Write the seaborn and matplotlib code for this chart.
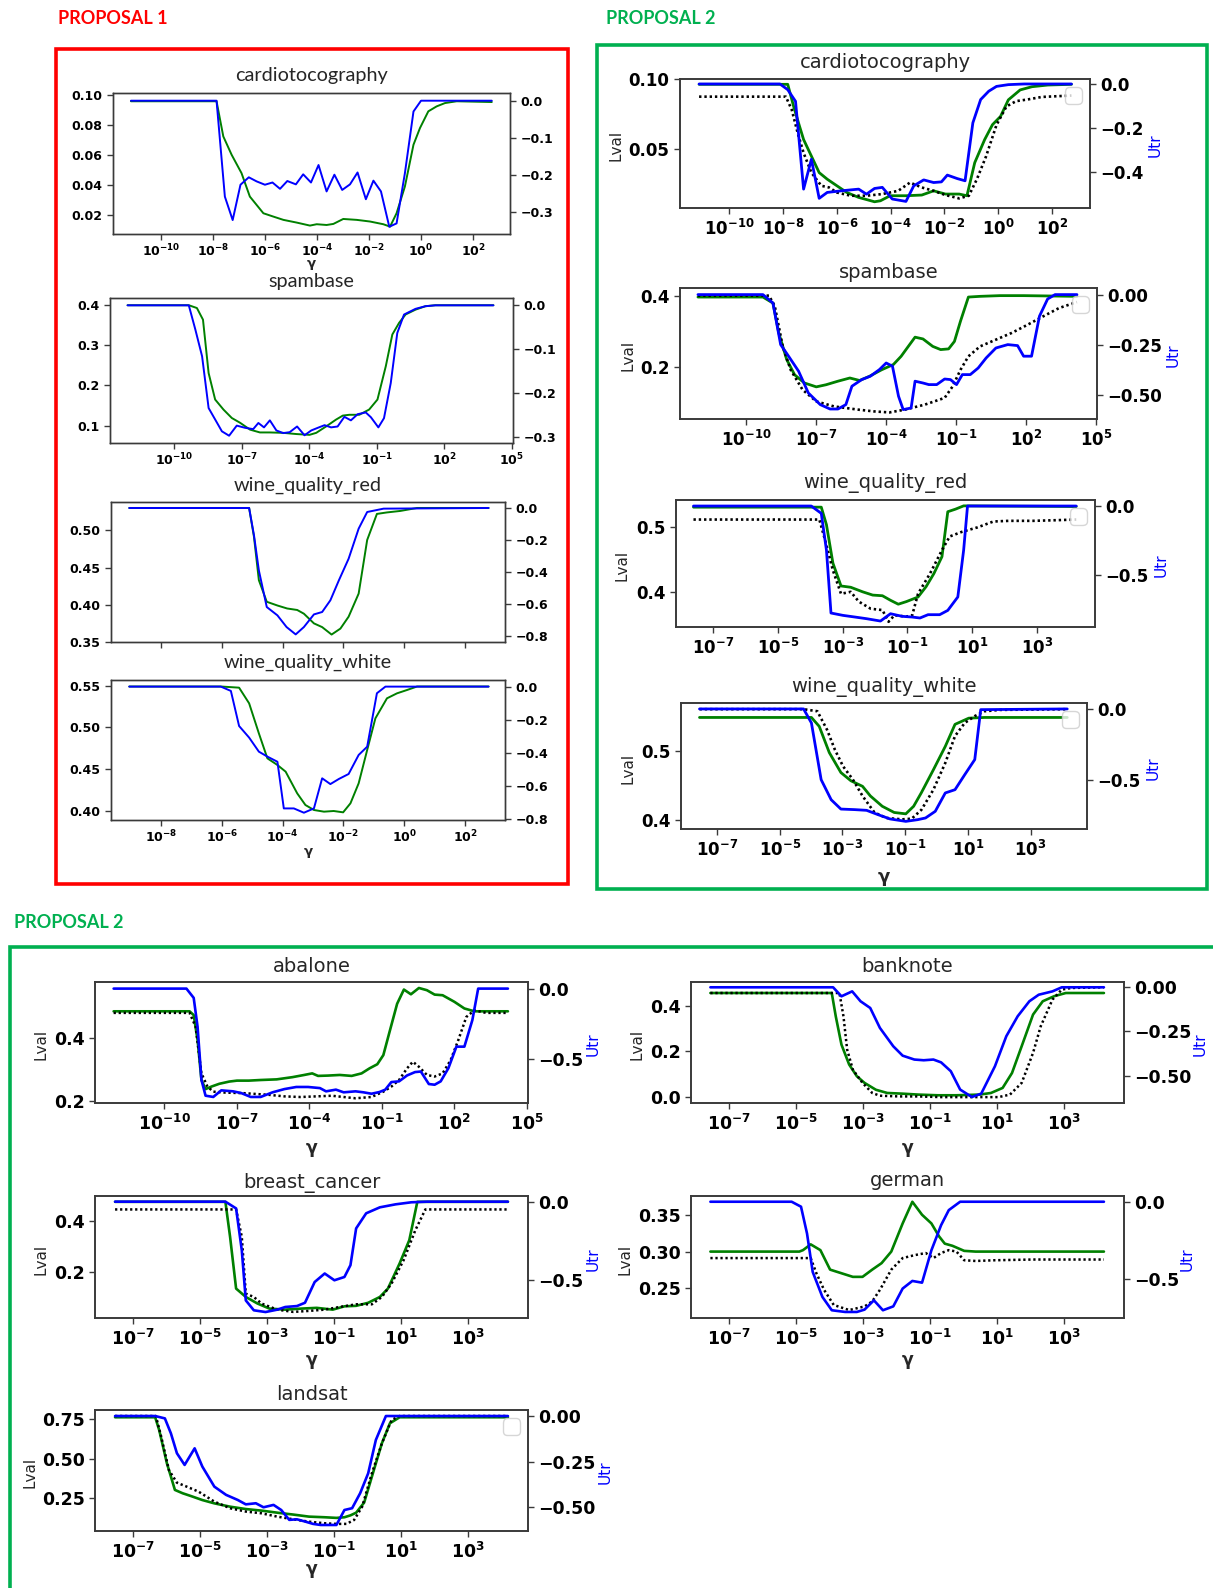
import numpy as np
import matplotlib
matplotlib.use("Agg")
import matplotlib.pyplot as plt
import seaborn as sns
from matplotlib.ticker import FixedLocator, FuncFormatter, NullLocator
from matplotlib.patches import Rectangle

# ======================= DATA (log10 gamma, value) =======================
# ---- PROPOSAL 1 ----
p1_card_green_lg = [-11.15, -7.86, -7.60, -7.28, -6.90, -6.58, -6.06, -5.68, -5.29, -4.78, -4.27, -4.01, -3.63, -3.37, -2.99, -2.47, -1.96, -1.45, -1.19, -0.94, -0.62, -0.29, -0.04, 0.28, 0.60, 0.92, 1.37, 2.72]
p1_card_green = [0.0956, 0.0956, 0.0722, 0.0600, 0.0478, 0.0322, 0.0211, 0.0189, 0.0167, 0.0149, 0.0129, 0.0138, 0.0133, 0.0140, 0.0173, 0.0167, 0.0156, 0.0138, 0.0122, 0.0211, 0.0389, 0.0667, 0.0778, 0.0889, 0.0922, 0.0944, 0.0956, 0.0951]
p1_card_blue_lg = [-11.15, -7.86, -7.54, -7.24, -6.94, -6.62, -6.32, -6.00, -5.71, -5.42, -5.14, -4.81, -4.53, -4.23, -3.94, -3.63, -3.33, -3.03, -2.73, -2.44, -2.12, -1.83, -1.54, -1.22, -0.94, -0.62, -0.29, 0.00, 2.72]
p1_card_blue = [0.0, 0.0, -0.258, -0.321, -0.226, -0.206, -0.217, -0.226, -0.220, -0.237, -0.216, -0.225, -0.198, -0.220, -0.173, -0.244, -0.199, -0.240, -0.225, -0.193, -0.265, -0.215, -0.244, -0.339, -0.330, -0.195, -0.029, 0.0, 0.0]

p1_spam_green_lg = [-12.07, -9.35, -8.99, -8.72, -8.47, -8.18, -7.81, -7.44, -7.07, -6.63, -6.19, -5.75, -5.16, -4.57, -3.99, -3.69, -3.25, -2.81, -2.51, -2.22, -1.78, -1.34, -0.97, -0.60, -0.31, -0.01, 0.28, 0.72, 1.16, 1.60, 4.18]
p1_spam_green = [0.400, 0.400, 0.393, 0.364, 0.231, 0.165, 0.140, 0.119, 0.107, 0.090, 0.083, 0.083, 0.082, 0.079, 0.077, 0.082, 0.098, 0.115, 0.125, 0.127, 0.127, 0.140, 0.165, 0.248, 0.327, 0.356, 0.377, 0.389, 0.3975, 0.400, 0.400]
p1_spam_blue_lg = [-12.07, -9.35, -9.06, -8.76, -8.47, -8.18, -7.88, -7.56, -7.22, -6.85, -6.49, -6.26, -6.01, -5.75, -5.46, -5.16, -4.87, -4.54, -4.21, -3.91, -3.62, -3.32, -3.03, -2.74, -2.44, -2.15, -1.85, -1.49, -1.26, -0.93, -0.68, -0.38, -0.09, 0.21, 0.72, 1.16, 1.60, 4.18]
p1_spam_blue = [0.0, 0.0, -0.055, -0.116, -0.234, -0.260, -0.287, -0.297, -0.274, -0.279, -0.282, -0.268, -0.278, -0.262, -0.285, -0.291, -0.289, -0.276, -0.296, -0.285, -0.279, -0.273, -0.278, -0.276, -0.254, -0.262, -0.248, -0.244, -0.255, -0.278, -0.257, -0.177, -0.063, -0.021, -0.008, -0.002, 0.0, 0.0]

p1_red_green_lg = [-9.04, -5.10, -4.94, -4.78, -4.52, -4.17, -3.85, -3.52, -3.30, -2.97, -2.70, -2.39, -2.10, -1.83, -1.50, -1.22, -0.90, -0.57, -0.13, 0.42, 2.77]
p1_red_green = [0.530, 0.530, 0.491, 0.433, 0.404, 0.399, 0.395, 0.393, 0.388, 0.375, 0.370, 0.360, 0.368, 0.384, 0.415, 0.487, 0.522, 0.524, 0.526, 0.530, 0.530]
p1_red_blue_lg = [-9.04, -5.10, -4.94, -4.78, -4.52, -4.17, -3.87, -3.57, -3.30, -2.97, -2.70, -2.43, -2.15, -1.83, -1.50, -1.22, -0.68, 2.77]
p1_red_blue = [0.0, 0.0, -0.171, -0.390, -0.619, -0.671, -0.744, -0.790, -0.744, -0.665, -0.650, -0.577, -0.452, -0.317, -0.129, -0.025, -0.004, 0.0]

p1_white_green_lg = [-9.04, -6.03, -5.43, -5.10, -4.78, -4.50, -4.17, -3.90, -3.52, -3.25, -2.97, -2.64, -2.32, -2.01, -1.77, -1.50, -1.22, -0.95, -0.57, -0.24, 0.09, 0.42, 2.77]
p1_white_green = [0.549, 0.549, 0.5476, 0.5288, 0.4928, 0.4628, 0.4548, 0.4468, 0.4208, 0.4068, 0.4008, 0.3988, 0.3996, 0.398, 0.4088, 0.4328, 0.4728, 0.5108, 0.5348, 0.5408, 0.5448, 0.549, 0.549]
p1_white_blue_lg = [-9.04, -6.03, -5.70, -5.43, -5.10, -4.78, -4.50, -4.17, -3.96, -3.63, -3.30, -2.97, -2.70, -2.43, -2.15, -1.83, -1.50, -1.22, -0.90, -0.62, 2.77]
p1_white_blue = [0.0, 0.0, -0.026, -0.238, -0.308, -0.393, -0.423, -0.454, -0.736, -0.736, -0.762, -0.736, -0.554, -0.589, -0.558, -0.528, -0.413, -0.363, -0.040, 0.0, 0.0]

# ---- PROPOSAL 2 (top right) ----
p2_card_green_lg = [-11.13, -7.83, -7.61, -7.39, -7.24, -6.95, -6.66, -6.36, -6.00, -5.63, -5.19, -4.60, -4.38, -4.02, -3.43, -2.84, -2.40, -1.96, -1.45, -1.16, -0.87, -0.50, -0.21, 0.09, 0.38, 0.82, 1.26, 1.85, 2.73]
p2_card_green = [0.0965, 0.0965, 0.0807, 0.0665, 0.0571, 0.0453, 0.0335, 0.0288, 0.0241, 0.0193, 0.0158, 0.0127, 0.0134, 0.0170, 0.0170, 0.0175, 0.0205, 0.0182, 0.0182, 0.0170, 0.0406, 0.0571, 0.0677, 0.0736, 0.0854, 0.0925, 0.0948, 0.0960, 0.0965]
p2_card_dot_lg = [-11.13, -7.90, -7.68, -7.46, -7.24, -6.95, -6.58, -6.29, -6.00, -5.48, -4.90, -4.31, -3.72, -3.28, -2.84, -2.40, -1.96, -1.45, -1.09, -0.79, -0.45, -0.06, 0.31, 0.67, 1.10, 1.63, 2.73]
p2_card_dot = [0.0877, 0.0877, 0.0783, 0.0618, 0.0476, 0.0335, 0.0241, 0.0229, 0.0193, 0.0170, 0.0170, 0.0182, 0.0205, 0.0264, 0.0229, 0.0205, 0.0175, 0.0151, 0.0170, 0.0288, 0.0450, 0.0675, 0.0807, 0.0845, 0.0857, 0.0875, 0.0885]
p2_card_blue_lg = [-11.13, -8.12, -7.83, -7.54, -7.24, -6.95, -6.66, -6.36, -5.78, -5.19, -4.90, -4.60, -4.31, -3.94, -3.43, -3.14, -2.77, -2.40, -2.11, -1.89, -1.52, -1.23, -0.94, -0.65, -0.35, -0.06, 0.38, 0.97, 2.73]
p2_card_blue = [0.0, 0.0, -0.026, -0.079, -0.479, -0.343, -0.521, -0.494, -0.486, -0.479, -0.502, -0.476, -0.471, -0.524, -0.535, -0.464, -0.437, -0.449, -0.446, -0.415, -0.431, -0.441, -0.177, -0.071, -0.033, -0.011, -0.003, 0.0, 0.0]

p2_spam_green_lg = [-12.08, -9.29, -8.86, -8.61, -8.27, -7.93, -7.51, -7.00, -6.58, -6.07, -5.56, -5.14, -4.71, -4.20, -3.69, -3.36, -3.05, -2.76, -2.42, -2.00, -1.66, -1.32, -1.07, -0.81, -0.47, 0.03, 0.88, 1.90, 4.19]
p2_spam_green = [0.398, 0.398, 0.381, 0.297, 0.222, 0.179, 0.156, 0.145, 0.151, 0.161, 0.170, 0.163, 0.175, 0.193, 0.208, 0.231, 0.259, 0.285, 0.280, 0.259, 0.250, 0.252, 0.273, 0.330, 0.398, 0.400, 0.402, 0.402, 0.400]
p2_spam_dot_lg = [-12.08, -9.03, -8.78, -8.44, -8.10, -7.59, -7.00, -6.24, -5.22, -4.54, -3.86, -3.19, -2.34, -1.49, -1.15, -0.81, -0.47, 0.03, 0.71, 1.39, 2.07, 2.75, 3.42, 4.19]
p2_spam_dot = [0.402, 0.402, 0.372, 0.259, 0.193, 0.137, 0.104, 0.090, 0.081, 0.076, 0.073, 0.081, 0.095, 0.114, 0.146, 0.193, 0.231, 0.259, 0.278, 0.297, 0.320, 0.344, 0.367, 0.384]
p2_spam_blue_lg = [-12.08, -9.29, -8.86, -8.53, -8.19, -7.76, -7.34, -6.83, -6.41, -6.07, -5.73, -5.47, -5.05, -4.68, -4.29, -4.00, -3.73, -3.47, -3.27, -2.93, -2.76, -2.42, -2.17, -1.83, -1.49, -1.24, -0.98, -0.73, -0.39, -0.05, 0.29, 0.71, 1.22, 1.64, 1.90, 2.24, 2.58, 2.93, 3.25, 4.19]
p2_spam_blue = [0.0, 0.0, -0.042, -0.250, -0.308, -0.383, -0.492, -0.550, -0.572, -0.572, -0.550, -0.458, -0.425, -0.408, -0.375, -0.342, -0.358, -0.508, -0.575, -0.567, -0.433, -0.442, -0.450, -0.450, -0.422, -0.425, -0.450, -0.400, -0.400, -0.367, -0.317, -0.267, -0.250, -0.255, -0.308, -0.308, -0.108, -0.022, 0.0, 0.0]

p2_red_green_lg = [-7.61, -3.66, -3.50, -3.30, -3.05, -2.75, -2.38, -2.07, -1.77, -1.52, -1.28, -1.03, -0.67, -0.42, -0.18, 0.07, 0.25, 0.49, 0.74, 4.22]
p2_red_green = [0.530, 0.530, 0.503, 0.444, 0.409, 0.407, 0.400, 0.395, 0.394, 0.387, 0.381, 0.385, 0.392, 0.408, 0.428, 0.454, 0.523, 0.527, 0.532, 0.531]
p2_red_dot_lg = [-7.61, -3.72, -3.54, -3.30, -3.05, -2.75, -2.50, -2.13, -1.77, -1.58, -1.40, -1.03, -0.85, -0.67, -0.30, 0.07, 0.31, 0.68, 1.17, 1.66, 2.14, 2.88, 3.61, 4.22]
p2_red_dot = [0.511, 0.511, 0.479, 0.433, 0.397, 0.400, 0.385, 0.374, 0.372, 0.354, 0.364, 0.362, 0.364, 0.397, 0.428, 0.464, 0.485, 0.492, 0.499, 0.508, 0.509, 0.509, 0.510, 0.511]
p2_red_blue_lg = [-7.61, -3.97, -3.66, -3.50, -3.36, -2.99, -2.62, -2.26, -1.83, -1.52, -1.16, -0.85, -0.61, -0.36, 0.00, 0.25, 0.56, 0.74, 0.86, 4.22]
p2_red_blue = [0.0, 0.0, -0.053, -0.319, -0.773, -0.790, -0.802, -0.814, -0.831, -0.778, -0.797, -0.802, -0.809, -0.785, -0.785, -0.754, -0.657, -0.319, 0.0, 0.0]

p2_white_green_lg = [-7.56, -3.99, -3.74, -3.42, -3.05, -2.73, -2.36, -2.11, -1.73, -1.35, -0.98, -0.73, -0.48, -0.10, 0.28, 0.59, 1.03, 1.53, 4.17]
p2_white_green = [0.549, 0.549, 0.536, 0.498, 0.469, 0.457, 0.449, 0.435, 0.420, 0.411, 0.409, 0.420, 0.440, 0.473, 0.507, 0.539, 0.548, 0.549, 0.549]
p2_white_dot_lg = [-7.56, -4.24, -3.80, -3.49, -3.24, -2.98, -2.67, -2.36, -1.98, -1.60, -1.10, -0.79, -0.48, -0.10, 0.28, 0.59, 0.90, 1.22, 1.53, 2.03, 4.17]
p2_white_dot = [0.561, 0.561, 0.558, 0.531, 0.502, 0.478, 0.459, 0.435, 0.411, 0.403, 0.401, 0.402, 0.415, 0.444, 0.483, 0.522, 0.541, 0.551, 0.558, 0.560, 0.561]
p2_white_blue_lg = [-7.56, -4.24, -3.99, -3.68, -3.36, -3.05, -2.61, -2.23, -1.86, -1.48, -0.98, -0.60, -0.35, -0.04, 0.28, 0.59, 0.90, 1.22, 1.41, 4.17]
p2_white_blue = [0.0, 0.0, -0.099, -0.500, -0.642, -0.708, -0.712, -0.717, -0.748, -0.778, -0.795, -0.783, -0.771, -0.724, -0.594, -0.571, -0.465, -0.358, -0.005, 0.0]

# ---- PROPOSAL 2 (bottom) ----
ab_green_lg = [-12.08, -8.94, -8.77, -8.61, -8.45, -8.28, -8.04, -7.71, -7.30, -6.98, -6.49, -6.00, -5.34, -4.69, -4.20, -3.87, -3.63, -3.22, -2.73, -2.24, -1.83, -1.50, -1.18, -0.93, -0.69, -0.36, -0.08, 0.21, 0.54, 0.87, 1.19, 1.52, 2.01, 2.42, 2.83, 4.22]
ab_green = [0.484, 0.484, 0.472, 0.393, 0.266, 0.237, 0.245, 0.254, 0.261, 0.264, 0.264, 0.266, 0.268, 0.275, 0.282, 0.287, 0.279, 0.280, 0.282, 0.279, 0.287, 0.303, 0.316, 0.345, 0.414, 0.508, 0.553, 0.538, 0.558, 0.551, 0.537, 0.535, 0.514, 0.493, 0.484, 0.484]
ab_dot_lg = [-12.08, -8.94, -8.69, -8.45, -8.20, -7.96, -7.47, -6.65, -5.67, -5.02, -4.36, -3.71, -3.06, -2.57, -2.08, -1.42, -0.93, -0.60, -0.28, 0.05, 0.29, 0.54, 0.87, 1.19, 1.52, 1.85, 2.17, 2.50, 2.83, 3.32, 4.22]
ab_dot = [0.479, 0.479, 0.435, 0.287, 0.245, 0.229, 0.226, 0.224, 0.219, 0.214, 0.212, 0.214, 0.216, 0.212, 0.208, 0.212, 0.229, 0.245, 0.266, 0.303, 0.324, 0.308, 0.282, 0.277, 0.287, 0.329, 0.393, 0.466, 0.487, 0.479, 0.479]
ab_blue_lg = [-12.08, -9.07, -8.77, -8.61, -8.45, -8.28, -7.96, -7.63, -7.14, -6.81, -6.41, -6.00, -5.51, -5.02, -4.53, -4.04, -3.55, -3.30, -2.89, -2.57, -2.08, -1.75, -1.42, -1.09, -0.85, -0.60, -0.28, 0.05, 0.38, 0.62, 0.95, 1.19, 1.44, 1.76, 2.09, 2.42, 2.75, 2.99, 4.22]
ab_blue = [0.0, 0.0, -0.066, -0.271, -0.649, -0.762, -0.771, -0.724, -0.731, -0.743, -0.771, -0.771, -0.738, -0.715, -0.700, -0.700, -0.708, -0.731, -0.719, -0.738, -0.731, -0.738, -0.748, -0.736, -0.719, -0.665, -0.660, -0.618, -0.594, -0.590, -0.679, -0.684, -0.660, -0.566, -0.413, -0.413, -0.224, 0.0, 0.0]

bn_green_lg = [-7.57, -3.94, -3.82, -3.65, -3.42, -3.19, -2.96, -2.62, -2.28, -1.82, -1.36, -0.78, -0.21, 0.48, 0.82, 1.17, 1.45, 1.74, 2.08, 2.37, 2.71, 3.06, 4.20]
bn_green = [0.455, 0.455, 0.353, 0.230, 0.143, 0.092, 0.063, 0.033, 0.019, 0.016, 0.012, 0.009, 0.009, 0.012, 0.019, 0.041, 0.106, 0.223, 0.361, 0.419, 0.441, 0.455, 0.455]
bn_dot_lg = [-7.57, -3.71, -3.59, -3.48, -3.31, -3.02, -2.73, -2.50, -1.93, -1.36, -0.67, 0.02, 0.71, 1.05, 1.39, 1.74, 2.08, 2.31, 2.66, 2.94, 3.23, 4.20]
bn_dot = [0.455, 0.455, 0.353, 0.208, 0.121, 0.063, 0.019, 0.007, 0.004, 0.004, 0.001, 0.001, 0.001, 0.001, 0.012, 0.063, 0.194, 0.310, 0.426, 0.470, 0.477, 0.480]
bn_blue_lg = [-7.57, -3.90, -3.65, -3.33, -3.08, -2.79, -2.50, -2.10, -1.82, -1.47, -1.19, -0.90, -0.67, -0.38, -0.10, 0.25, 0.53, 0.94, 1.28, 1.62, 1.97, 2.25, 2.66, 2.94, 4.20]
bn_blue = [0.0, 0.0, -0.051, -0.023, -0.079, -0.117, -0.230, -0.334, -0.387, -0.409, -0.413, -0.409, -0.425, -0.475, -0.579, -0.621, -0.602, -0.447, -0.277, -0.164, -0.079, -0.042, -0.023, 0.0, 0.0]

bc_green_lg = [-7.55, -4.25, -4.11, -3.93, -3.64, -3.29, -2.93, -2.46, -1.99, -1.52, -1.04, -0.69, -0.34, 0.02, 0.37, 0.61, 0.96, 1.25, 1.49, 4.20]
bc_green = [0.476, 0.476, 0.338, 0.134, 0.101, 0.075, 0.055, 0.051, 0.055, 0.058, 0.051, 0.064, 0.066, 0.078, 0.101, 0.134, 0.233, 0.325, 0.476, 0.476]
bc_dot_lg = [-7.55, -3.93, -3.76, -3.64, -3.40, -3.17, -2.70, -2.22, -1.75, -1.28, -0.81, -0.34, 0.13, 0.43, 0.72, 1.08, 1.43, 1.73, 4.20]
bc_dot = [0.446, 0.446, 0.338, 0.114, 0.101, 0.075, 0.051, 0.042, 0.046, 0.051, 0.062, 0.072, 0.072, 0.101, 0.154, 0.246, 0.364, 0.446, 0.446]
bc_blue_lg = [-7.55, -4.25, -3.93, -3.76, -3.64, -3.40, -3.05, -2.70, -2.46, -2.11, -1.87, -1.58, -1.28, -0.99, -0.69, -0.51, -0.34, -0.04, 0.37, 0.84, 1.31, 1.79, 4.20]
bc_blue = [0.0, 0.0, -0.043, -0.309, -0.628, -0.691, -0.702, -0.687, -0.670, -0.664, -0.643, -0.511, -0.457, -0.500, -0.479, -0.404, -0.170, -0.074, -0.036, -0.017, -0.004, 0.0, 0.0]

gm_green_lg = [-7.57, -4.91, -4.80, -4.57, -4.28, -3.99, -3.65, -3.31, -3.02, -2.73, -2.45, -2.16, -1.82, -1.53, -1.24, -0.96, -0.73, -0.56, -0.33, 0.02, 0.36, 4.20]
gm_green = [0.300, 0.300, 0.302, 0.310, 0.302, 0.275, 0.270, 0.265, 0.265, 0.275, 0.284, 0.300, 0.339, 0.369, 0.351, 0.339, 0.321, 0.311, 0.308, 0.301, 0.300, 0.300]
gm_dot_lg = [-7.57, -4.57, -4.40, -4.17, -3.88, -3.42, -2.96, -2.73, -2.50, -2.16, -1.82, -1.47, -1.13, -0.90, -0.67, -0.44, -0.21, 0.02, 0.36, 0.94, 2.08, 4.20]
gm_dot = [0.291, 0.291, 0.270, 0.247, 0.226, 0.219, 0.224, 0.231, 0.247, 0.275, 0.291, 0.295, 0.298, 0.291, 0.298, 0.302, 0.300, 0.288, 0.287, 0.288, 0.289, 0.289]
gm_blue_lg = [-7.57, -5.14, -4.86, -4.68, -4.51, -4.22, -3.94, -3.54, -3.19, -2.96, -2.68, -2.41, -2.10, -1.82, -1.53, -1.24, -0.96, -0.67, -0.44, -0.10, 4.20]
gm_blue = [0.0, 0.0, -0.032, -0.205, -0.453, -0.614, -0.700, -0.711, -0.711, -0.696, -0.636, -0.700, -0.675, -0.560, -0.511, -0.522, -0.313, -0.151, -0.054, 0.0, 0.0]

ls_green_lg = [-7.55, -6.35, -6.23, -6.00, -5.76, -5.53, -5.29, -4.94, -4.58, -4.11, -3.64, -3.17, -2.70, -2.22, -1.75, -1.28, -0.93, -0.69, -0.51, -0.34, -0.10, 0.19, 0.43, 0.67, 0.96, 4.20]
ls_green = [0.763, 0.763, 0.682, 0.472, 0.303, 0.282, 0.265, 0.239, 0.218, 0.197, 0.182, 0.172, 0.159, 0.147, 0.134, 0.130, 0.126, 0.130, 0.142, 0.159, 0.223, 0.429, 0.598, 0.725, 0.763, 0.763]
ls_dot_lg = [-7.55, -6.33, -6.17, -5.94, -5.70, -5.41, -5.05, -4.58, -4.11, -3.64, -3.17, -2.70, -2.22, -1.75, -1.28, -0.93, -0.63, -0.40, -0.16, 0.13, 0.43, 0.72, 0.96, 4.20]
ls_dot = [0.771, 0.771, 0.640, 0.429, 0.349, 0.324, 0.292, 0.229, 0.187, 0.166, 0.155, 0.134, 0.117, 0.102, 0.092, 0.088, 0.088, 0.113, 0.197, 0.408, 0.598, 0.746, 0.771, 0.771]
ls_blue_lg = [-7.55, -6.35, -6.06, -5.88, -5.70, -5.47, -5.17, -4.94, -4.58, -4.23, -3.88, -3.64, -3.34, -3.11, -2.81, -2.58, -2.34, -2.11, -1.87, -1.63, -1.40, -1.16, -0.93, -0.69, -0.46, -0.22, 0.02, 0.25, 0.55, 4.20]
ls_blue = [0.0, 0.0, -0.013, -0.095, -0.204, -0.268, -0.177, -0.277, -0.387, -0.432, -0.460, -0.484, -0.478, -0.500, -0.487, -0.515, -0.569, -0.566, -0.578, -0.591, -0.597, -0.597, -0.597, -0.515, -0.505, -0.423, -0.314, -0.131, 0.0, 0.0]

titles = ["cardiotocography", "spambase", "wine_quality_red", "wine_quality_white",
          "abalone", "banknote", "breast_cancer", "german", "landsat"]

# ======================= STYLE =======================
W, H = 1213, 1588
sns.set_style("ticks")
plt.rcParams.update({
    "font.weight": "bold",
    "axes.edgecolor": "#3a3a3a",
    "xtick.color": "#3a3a3a",
    "ytick.color": "#3a3a3a",
    "xtick.labelcolor": "black",
    "ytick.labelcolor": "black",
    "xtick.direction": "out",
    "ytick.direction": "out",
    "mathtext.fontset": "dejavusans",
})
plt.rcParams["font.family"] = ["DejaVu Sans"]

fig = plt.figure(figsize=(W / 100, H / 100), dpi=100)
fig.patch.set_facecolor("white")


def frac(l, t, r, b):
    return [l / W, 1 - b / H, (r - l) / W, (b - t) / H]


def fx(x):
    return x / W


def fy(y):
    return 1 - y / H


def xfmt(v, p):
    e = int(round(np.log10(v)))
    return r"$\mathbf{10^{\mathbf{%d}}}$" % e


def yfmt_factory(fmt):
    return FuncFormatter(lambda v, p: (fmt % v).replace("-", "\u2212"))


def draw_panel(box, xlim, xt, yl, yr, ytl, ytr, fl, fr, green, blue, dot=None,
               title=None, title_y=None, title_font="DejaVu Sans", title_size=14,
               tick_size=12, lw=2.0, gamma_y=None, gamma_size=12,
               lval=None, utr=None, lab_size=11, legend=False, xlabels=True,
               spine_lw=1.2, xpad=3.5):
    ax = fig.add_axes(frac(*box))
    ax.set_xscale("log")
    ax2 = ax.twinx()
    sns.lineplot(x=10 ** np.asarray(green[0]), y=green[1], ax=ax, color="green",
                 lw=lw, estimator=None, sort=False, legend=False)
    if dot is not None:
        sns.lineplot(x=10 ** np.asarray(dot[0]), y=dot[1], ax=ax, color="black",
                     lw=lw * 0.95, linestyle=(0, (0.9, 1.1)), estimator=None,
                     sort=False, legend=False)
    sns.lineplot(x=10 ** np.asarray(blue[0]), y=blue[1], ax=ax2, color="blue",
                 lw=lw, estimator=None, sort=False, legend=False)
    ax.set_xlim(10 ** xlim[0], 10 ** xlim[1])
    ax.set_ylim(*yl)
    ax2.set_ylim(*yr)
    ax.xaxis.set_major_locator(FixedLocator(10.0 ** np.asarray(xt)))
    ax.xaxis.set_minor_locator(NullLocator())
    ax.xaxis.set_major_formatter(FuncFormatter(xfmt))
    ax.yaxis.set_major_locator(FixedLocator(ytl))
    ax.yaxis.set_major_formatter(yfmt_factory(fl))
    ax2.yaxis.set_major_locator(FixedLocator(ytr))
    ax2.yaxis.set_major_formatter(yfmt_factory(fr))
    for a in (ax, ax2):
        a.set_xlabel("")
        a.set_ylabel("")
        a.tick_params(labelsize=tick_size, width=1.0, length=4)
        for s in a.spines.values():
            s.set_linewidth(spine_lw)
            s.set_color("#3a3a3a")
    ax.tick_params(axis="x", pad=xpad)
    if not xlabels:
        ax.tick_params(labelbottom=False)
    cx = (box[0] + box[2]) / 2
    cy = (box[1] + box[3]) / 2 + 2
    if title:
        fig.text(fx(cx), fy(title_y), title, ha="center", va="center",
                 fontsize=title_size, fontweight="normal", family=title_font)
    if gamma_y is not None:
        fig.text(fx(cx), fy(gamma_y), "γ", ha="center", va="center",
                 fontsize=gamma_size, fontweight="bold")
    if lval is not None:
        fig.text(fx(lval), fy(cy), "Lval", rotation=90, ha="center", va="center",
                 fontsize=lab_size, fontweight="normal")
    if utr is not None:
        fig.text(fx(utr), fy(cy), "Utr", rotation=90, ha="center", va="center",
                 fontsize=lab_size, fontweight="normal", color="blue")
    if legend:
        ax2.legend(handles=[], loc="upper right", fontsize=15, borderaxespad=0.4)
    return ax, ax2


# ======================= FRAMES & HEADERS =======================
RED = "#ff0000"
GRN = "#00b050"
fig.add_artist(Rectangle((fx(56), fy(884)), (568 - 56) / W, (884 - 49) / H,
                         transform=fig.transFigure, fill=False, ec=RED, lw=2.6))
fig.add_artist(Rectangle((fx(597), fy(889)), (1207 - 597) / W, (889 - 45) / H,
                         transform=fig.transFigure, fill=False, ec=GRN, lw=2.6))
fig.add_artist(Rectangle((fx(10), fy(1640)), (1300 - 10) / W, (1640 - 947) / H,
                         transform=fig.transFigure, fill=False, ec=GRN, lw=2.6))
fig.text(fx(58), fy(18), "PROPOSAL 1", color=RED, fontsize=13, fontweight="bold",
         family="Lato", va="center", ha="left")
fig.text(fx(606), fy(18), "PROPOSAL 2", color=GRN, fontsize=13, fontweight="bold",
         family="Lato", va="center", ha="left")
fig.text(fx(14), fy(922), "PROPOSAL 2", color=GRN, fontsize=13, fontweight="bold",
         family="Lato", va="center", ha="left")

# ======================= PROPOSAL 1 =======================
P1 = dict(title_font="Lato", title_size=14.3, tick_size=9, lw=1.4,
          gamma_size=9.5, spine_lw=1.0, xpad=2.5)
draw_panel((113, 93, 510, 234), (-11.84, 3.42), [-10, -8, -6, -4, -2, 0, 2],
           (0.0073, 0.1011), (-0.3585, 0.0207),
           [0.02, 0.04, 0.06, 0.08, 0.10], [0.0, -0.1, -0.2, -0.3], "%.2f", "%.1f",
           (p1_card_green_lg, p1_card_green), (p1_card_blue_lg, p1_card_blue),
           title=titles[0], title_y=75, gamma_y=264, **P1)
draw_panel((110, 298, 513, 443), (-12.85, 5.05), [-10, -7, -4, -1, 2, 5],
           (0.0567, 0.418), (-0.3136, 0.0167),
           [0.1, 0.2, 0.3, 0.4], [0.0, -0.1, -0.2, -0.3], "%.1f", "%.1f",
           (p1_spam_green_lg, p1_spam_green), (p1_spam_blue_lg, p1_spam_blue),
           title=titles[1], title_y=281, **P1)
draw_panel((111, 502, 505, 642), (-9.64, 3.31), [-8, -6, -4, -2, 0, 2],
           (0.35, 0.538), (-0.8375, 0.0375),
           [0.35, 0.40, 0.45, 0.50], [0.0, -0.2, -0.4, -0.6, -0.8], "%.2f", "%.1f",
           (p1_red_green_lg, p1_red_green), (p1_red_blue_lg, p1_red_blue),
           title=titles[2], title_y=485, xlabels=False, **P1)
draw_panel((111, 680, 505, 820), (-9.64, 3.31), [-8, -6, -4, -2, 0, 2],
           (0.3888, 0.5568), (-0.806, 0.040),
           [0.40, 0.45, 0.50, 0.55], [0.0, -0.2, -0.4, -0.6, -0.8], "%.2f", "%.1f",
           (p1_white_green_lg, p1_white_green), (p1_white_blue_lg, p1_white_blue),
           title=titles[3], title_y=662, gamma_y=852, **P1)

# ======================= PROPOSAL 2 (top right) =======================
P2 = dict(title_size=14, tick_size=12, lw=2.0, gamma_size=13, lab_size=11)
draw_panel((680, 79, 1090, 208), (-11.84, 3.42), [-10, -8, -6, -4, -2, 0, 2],
           (0.00825, 0.1003), (-0.565, 0.0227),
           [0.05, 0.10], [0.0, -0.2, -0.4], "%.2f", "%.1f",
           (p2_card_green_lg, p2_card_green), (p2_card_blue_lg, p2_card_blue),
           dot=(p2_card_dot_lg, p2_card_dot),
           title=titles[0], title_y=63, lval=616, utr=1155, legend=True, **P2)
draw_panel((680, 288, 1097, 419), (-12.85, 5.05), [-10, -7, -4, -1, 2, 5],
           (0.0545, 0.4235), (-0.622, 0.033),
           [0.2, 0.4], [0.0, -0.25, -0.5], "%.1f", "%.2f",
           (p2_spam_green_lg, p2_spam_green), (p2_spam_blue_lg, p2_spam_blue),
           dot=(p2_spam_dot_lg, p2_spam_dot),
           title=titles[1], title_y=272, lval=628, utr=1173, legend=True, **P2)
draw_panel((676, 500, 1095, 627), (-8.15, 4.8), [-7, -5, -3, -1, 1, 3],
           (0.346, 0.541), (-0.874, 0.0435),
           [0.4, 0.5], [0.0, -0.5], "%.1f", "%.1f",
           (p2_red_green_lg, p2_red_green), (p2_red_blue_lg, p2_red_blue),
           dot=(p2_red_dot_lg, p2_red_dot),
           title=titles[2], title_y=483, lval=622, utr=1161, legend=True, **P2)
draw_panel((681, 703, 1087, 829), (-8.15, 4.8), [-7, -5, -3, -1, 1, 3],
           (0.387, 0.570), (-0.849, 0.042),
           [0.4, 0.5], [0.0, -0.5], "%.1f", "%.1f",
           (p2_white_green_lg, p2_white_green), (p2_white_blue_lg, p2_white_blue),
           dot=(p2_white_dot_lg, p2_white_dot),
           title=titles[3], title_y=687, gamma_y=877, lval=628, utr=1153,
           legend=True, **P2)

# ======================= PROPOSAL 2 (bottom) =======================
P3 = dict(title_size=14, tick_size=12.5, lw=1.9, gamma_size=12.5, lab_size=11)
draw_panel((95, 982, 528, 1103), (-12.85, 5.05), [-10, -7, -4, -1, 2, 5],
           (0.193, 0.577), (-0.814, 0.047),
           [0.2, 0.4], [0.0, -0.5], "%.1f", "%.1f",
           (ab_green_lg, ab_green), (ab_blue_lg, ab_blue), dot=(ab_dot_lg, ab_dot),
           title=titles[4], title_y=967, gamma_y=1148, lval=41, utr=593, **P3)
draw_panel((691, 982, 1124, 1103), (-8.15, 4.8), [-7, -5, -3, -1, 1, 3],
           (-0.0247, 0.503), (-0.655, 0.030),
           [0.0, 0.2, 0.4], [0.0, -0.25, -0.5], "%.1f", "%.2f",
           (bn_green_lg, bn_green), (bn_blue_lg, bn_blue), dot=(bn_dot_lg, bn_dot),
           title=titles[5], title_y=967, gamma_y=1148, lval=637, utr=1200, **P3)
draw_panel((95, 1196, 528, 1318), (-8.15, 4.8), [-7, -5, -3, -1, 1, 3],
           (0.018, 0.499), (-0.74, 0.036),
           [0.2, 0.4], [0.0, -0.5], "%.1f", "%.1f",
           (bc_green_lg, bc_green), (bc_blue_lg, bc_blue), dot=(bc_dot_lg, bc_dot),
           title=titles[6], title_y=1183, gamma_y=1360, lval=41, utr=593, **P3)
draw_panel((691, 1196, 1124, 1318), (-8.15, 4.8), [-7, -5, -3, -1, 1, 3],
           (0.208, 0.377), (-0.75, 0.037),
           [0.25, 0.30, 0.35], [0.0, -0.5], "%.2f", "%.1f",
           (gm_green_lg, gm_green), (gm_blue_lg, gm_blue), dot=(gm_dot_lg, gm_dot),
           title=titles[7], title_y=1181, gamma_y=1360, lval=625, utr=1187, **P3)
draw_panel((95, 1410, 528, 1531), (-8.15, 4.8), [-7, -5, -3, -1, 1, 3],
           (0.043, 0.809), (-0.630, 0.033),
           [0.25, 0.50, 0.75], [0.0, -0.25, -0.5], "%.2f", "%.2f",
           (ls_green_lg, ls_green), (ls_blue_lg, ls_blue), dot=(ls_dot_lg, ls_dot),
           title=titles[8], title_y=1395, gamma_y=1569, lval=30, utr=605,
           legend=True, **P3)

fig.savefig("out.png", dpi=100, facecolor="white")
